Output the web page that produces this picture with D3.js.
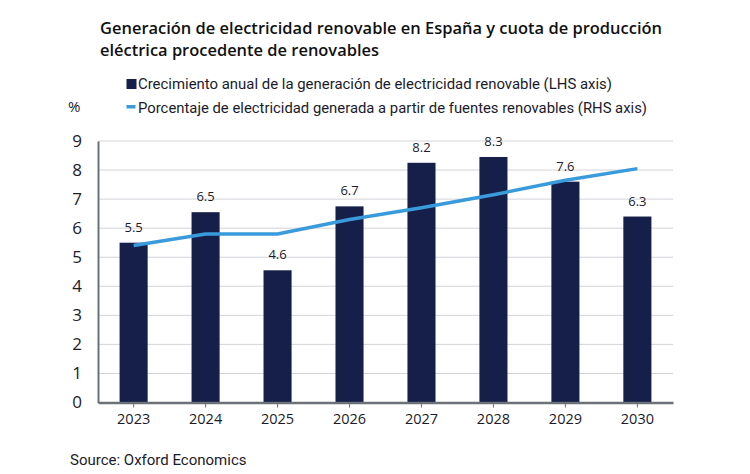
<!DOCTYPE html>
<html><head><meta charset="utf-8">
<script src="https://cdn.jsdelivr.net/npm/d3@7"></script>
<style>body{margin:0;background:#fff;} svg{display:block;}</style>
</head><body>
<svg id="chart" width="750" height="474"></svg>
<script>
const years = ["2023","2024","2025","2026","2027","2028","2029","2030"];
const growth = [5.5, 6.55, 4.55, 6.75, 8.25, 8.45, 7.6, 6.4];
const growthLabels = ["5.5","6.5","4.6","6.7","8.2","8.3","7.6","6.3"];
const share = [5.4, 5.8, 5.8, 6.3, 6.7, 7.15, 7.65, 8.05];
const yTicks = [0,1,2,3,4,5,6,7,8,9];
const titleLines = ["Generación de electricidad renovable en España y cuota de producción","eléctrica procedente de renovables"];
const legendItems = ["Crecimiento anual de la generación de electricidad renovable (LHS axis)","Porcentaje de electricidad generada a partir de fuentes renovables (RHS axis)"];

(function(){
const navy = "#151f4a", blue = "#3a9bdc", txt = "#1b1b2b";
const svg = d3.select("#chart");
const pL = 98, pR = 673, pT = 141, pB = 402.5;
const titleW = [562, 279], legendW = [474, 509];

const x = d3.scaleBand().domain(years).range([pL, pR]).paddingInner(0.61).paddingOuter(0.3);
const y = d3.scaleLinear().domain([0, 9]).range([pB, pT]);

svg.append("g").selectAll("text").data(titleLines).join("text")
  .attr("x", 100).attr("y", (d,i)=>34 + i*21.5)
  .attr("font-family","Open Sans").attr("font-weight",600).attr("font-size",15.8)
  .attr("textLength",(d,i)=>titleW[i]).attr("lengthAdjust","spacingAndGlyphs")
  .attr("fill","#111").text(d=>d);

const lg = svg.append("g").attr("font-family","Roboto").attr("font-size",15).attr("fill",txt);
lg.append("rect").attr("x",126.5).attr("y",79).attr("width",10).attr("height",10).attr("fill",navy);
lg.append("rect").attr("x",126.5).attr("y",105).attr("width",9).attr("height",3.5).attr("fill",blue);
lg.selectAll("text").data(legendItems).join("text")
  .attr("x",138).attr("y",(d,i)=>88.5 + i*24)
  .attr("textLength",(d,i)=>legendW[i]).attr("lengthAdjust","spacingAndGlyphs")
  .attr("fill",txt).text(d=>d);

svg.append("text").attr("x",68).attr("y",112).attr("font-family","Open Sans").attr("font-size",15).attr("fill",txt).text("%");

svg.append("g").selectAll("line").data(yTicks.filter(d=>d>0)).join("line")
  .attr("x1",pL).attr("x2",pR).attr("y1",d=>y(d)).attr("y2",d=>y(d))
  .attr("stroke","#d3d4d9").attr("stroke-width",1);

const yAxis = svg.append("g").attr("transform",`translate(${pL},0)`)
  .call(d3.axisLeft(y).tickValues(yTicks).tickSize(0).tickPadding(16));
yAxis.select(".domain").attr("stroke","#6b7079").attr("stroke-width",2);
yAxis.selectAll("text").attr("font-family","Open Sans").attr("font-size",17).attr("fill",txt);

svg.append("g").selectAll("rect").data(years).join("rect")
  .attr("x",d=>x(d)).attr("width",x.bandwidth())
  .attr("y",(d,i)=>y(growth[i])).attr("height",(d,i)=>pB - y(growth[i]))
  .attr("fill",navy);

svg.append("g").selectAll("text").data(years).join("text")
  .attr("x",d=>x(d)+x.bandwidth()/2).attr("y",(d,i)=>y(growth[i]) - 11)
  .attr("text-anchor","middle").attr("font-family","Open Sans").attr("font-size",13)
  .attr("fill",txt).text((d,i)=>growthLabels[i]);

const xAxis = svg.append("g").attr("transform",`translate(0,${pB})`)
  .call(d3.axisBottom(x).tickSize(5).tickPadding(6).tickSizeOuter(0));
xAxis.select(".domain").attr("stroke","#6b7079").attr("stroke-width",2.5);
xAxis.selectAll(".tick line").attr("stroke","#6b7079");
xAxis.selectAll("text").attr("font-family","Open Sans").attr("font-size",14.5).attr("fill",txt);

const line = d3.line().x((d,i)=>x(years[i])+x.bandwidth()/2).y(d=>y(d));
svg.append("path").datum(share).attr("d",line).attr("fill","none")
  .attr("stroke",blue).attr("stroke-width",3.5);

svg.append("text").attr("x",70).attr("y",465).attr("font-family","Roboto").attr("font-size",15)
  .attr("fill",txt).text("Source: Oxford Economics");
})();
</script>
</body></html>
